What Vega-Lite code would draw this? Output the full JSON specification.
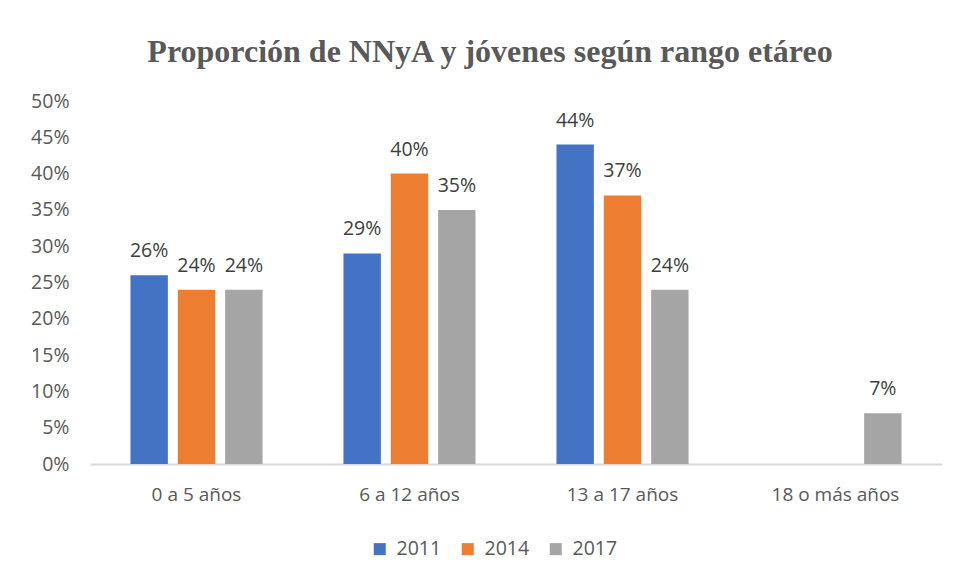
{
  "$schema": "https://vega.github.io/schema/vega-lite/v6.json",
  "autosize": {"type": "none"},
  "padding": {"left": 90, "top": 101, "right": 15, "bottom": 115},
  "width": 852,
  "height": 363,
  "background": "white",
  "title": {
    "text": "Proporción de NNyA y jóvenes según rango etáreo",
    "font": "Liberation Serif",
    "fontSize": 32,
    "fontWeight": "bold",
    "color": "#595959",
    "anchor": "middle",
    "dx": -26,
    "offset": 22
  },
  "data": {
    "values": [
      {"rango": "0 a 5 años", "anio": "2011", "valor": 0.26},
      {"rango": "0 a 5 años", "anio": "2014", "valor": 0.24},
      {"rango": "0 a 5 años", "anio": "2017", "valor": 0.24},
      {"rango": "6 a 12 años", "anio": "2011", "valor": 0.29},
      {"rango": "6 a 12 años", "anio": "2014", "valor": 0.40},
      {"rango": "6 a 12 años", "anio": "2017", "valor": 0.35},
      {"rango": "13 a 17 años", "anio": "2011", "valor": 0.44},
      {"rango": "13 a 17 años", "anio": "2014", "valor": 0.37},
      {"rango": "13 a 17 años", "anio": "2017", "valor": 0.24},
      {"rango": "18 o más años", "anio": "2017", "valor": 0.07}
    ]
  },
  "encoding": {
    "x": {
      "field": "rango",
      "type": "nominal",
      "sort": ["0 a 5 años", "6 a 12 años", "13 a 17 años", "18 o más años"],
      "scale": {"paddingInner": 0.38, "paddingOuter": 0.19},
      "axis": {
        "title": null,
        "labelAngle": 0,
        "ticks": false,
        "tickSize": 0,
        "labelPadding": 21,
        "labelFont": "Open Sans",
        "labelFontSize": 19,
        "labelColor": "#595959",
        "domainColor": "#d9d9d9",
        "domainWidth": 2,
        "grid": false
      }
    },
    "xOffset": {
      "field": "anio",
      "type": "nominal",
      "scale": {"domain": ["2011", "2014", "2017"], "paddingInner": 0.21, "paddingOuter": 0}
    },
    "y": {
      "field": "valor",
      "type": "quantitative",
      "scale": {"domain": [0, 0.5]},
      "axis": {
        "title": null,
        "format": ".0%",
        "values": [0, 0.05, 0.1, 0.15, 0.2, 0.25, 0.3, 0.35, 0.4, 0.45, 0.5],
        "domain": false,
        "ticks": false,
        "grid": false,
        "labelPadding": 21,
        "labelFont": "Open Sans",
        "labelFontSize": 19.5,
        "labelColor": "#595959"
      }
    }
  },
  "layer": [
    {
      "mark": {"type": "bar"},
      "encoding": {
        "color": {
          "field": "anio",
          "type": "nominal",
          "scale": {"domain": ["2011", "2014", "2017"], "range": ["#4472C4", "#ED7D31", "#A5A5A5"]},
          "legend": {
            "title": null,
            "orient": "none",
            "legendX": 280,
            "legendY": 438,
            "direction": "horizontal",
            "symbolType": "square",
            "symbolSize": 144,
            "symbolStrokeWidth": 0,
            "labelFont": "Open Sans",
            "labelFontSize": 19.5,
            "labelColor": "#595959",
            "labelOffset": 7,
            "columnPadding": 16
          }
        }
      }
    },
    {
      "mark": {
        "type": "text",
        "baseline": "alphabetic",
        "dy": -18,
        "font": "Open Sans",
        "fontSize": 19.5,
        "color": "#404040"
      },
      "encoding": {
        "text": {"field": "valor", "type": "quantitative", "format": ".0%"}
      }
    }
  ],
  "config": {
    "view": {"stroke": null}
  }
}
